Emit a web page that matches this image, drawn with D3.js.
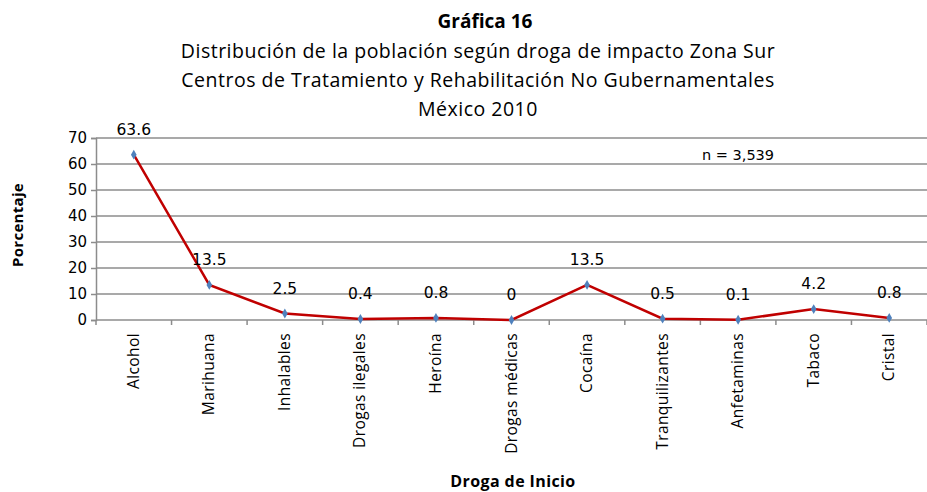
<!DOCTYPE html>
<html>
<head>
<meta charset="utf-8">
<script src="https://cdn.jsdelivr.net/npm/d3@7"></script>
<style>
  body { margin: 0; background: #fff; }
  svg { display: block; }
</style>
</head>
<body>
<div id="chart"></div>
<script>
// chart data
var categories = ["Alcohol", "Marihuana", "Inhalables", "Drogas ilegales", "Heroína",
                  "Drogas médicas", "Cocaína", "Tranquilizantes", "Anfetaminas", "Tabaco", "Cristal"];
var values = [63.6, 13.5, 2.5, 0.4, 0.8, 0, 13.5, 0.5, 0.1, 4.2, 0.8];
var yTicks = [0, 10, 20, 30, 40, 50, 60, 70];
var titleLines = ["Distribución de la población según droga de impacto Zona Sur",
                  "Centros de Tratamiento y Rehabilitación No Gubernamentales",
                  "México 2010"];

var W = 927, H = 492;
var margin = {top: 138, left: 96, right: 0, bottom: 172},
    width  = W - margin.left - margin.right,
    height = H - margin.top - margin.bottom;

var titleFont = "'Open Sans', Lato, sans-serif";
var numFont = "'DejaVu Sans', Verdana, sans-serif";

var svg = d3.select("#chart").append("svg")
    .attr("width", W)
    .attr("height", H);

// titles
svg.append("text")
  .attr("x", 485).attr("y", 28)
  .attr("text-anchor", "middle")
  .attr("font-family", titleFont)
  .attr("font-weight", "bold")
  .attr("font-size", 19)
  .text("Gráfica 16");

svg.selectAll(".subtitle").data(titleLines).enter()
  .append("text")
  .attr("class", "subtitle")
  .attr("x", 478)
  .attr("y", function(d, i) { return 58 + i * 29; })
  .attr("text-anchor", "middle")
  .attr("font-family", titleFont)
  .attr("font-size", 19.5)
  .attr("letter-spacing", 0.5)
  .text(function(d) { return d; });

var g = svg.append("g").attr("transform", "translate(" + margin.left + "," + margin.top + ")");

var x = d3.scaleBand().domain(categories).range([0, width]);
var y = d3.scaleLinear().domain([0, 70]).range([height, 0]);

// gridlines
g.selectAll(".horizontalGrid").data(yTicks.filter(function(d) { return d > 0; })).enter()
  .append("line")
  .attr("class", "horizontalGrid")
  .attr("x1", 0)
  .attr("x2", width)
  .attr("y1", function(d) { return y(d); })
  .attr("y2", function(d) { return y(d); })
  .attr("stroke", "#8c8c8c")
  .attr("stroke-width", 1.5);

// y axis
var yAxis = g.append("g")
  .call(d3.axisLeft(y).tickValues(yTicks).tickSize(5).tickPadding(4));
yAxis.selectAll("path, line").attr("stroke", "#8c8c8c").attr("stroke-width", 1.5);
yAxis.selectAll("text")
  .attr("font-family", numFont)
  .attr("font-size", 15)
  .attr("fill", "#000");

// x axis with ticks between categories
var xAxis = g.append("g").attr("transform", "translate(0," + height + ")");
xAxis.append("line")
  .attr("x1", 0).attr("x2", width)
  .attr("stroke", "#8c8c8c").attr("stroke-width", 1.5);
xAxis.selectAll(".xtick").data(d3.range(categories.length + 1)).enter()
  .append("line")
  .attr("x1", function(i) { return i * x.bandwidth(); })
  .attr("x2", function(i) { return i * x.bandwidth(); })
  .attr("y1", 0).attr("y2", 5)
  .attr("stroke", "#8c8c8c").attr("stroke-width", 1.5);
xAxis.selectAll(".xlabel").data(categories).enter()
  .append("text")
  .attr("transform", function(d) {
    return "translate(" + (x(d) + x.bandwidth() / 2 + 5) + ",13) rotate(-90)";
  })
  .attr("text-anchor", "end")
  .attr("font-family", titleFont)
  .attr("font-size", 15.5)
  .attr("letter-spacing", 0.4)
  .text(function(d) { return d; });

// line
var line = d3.line()
  .x(function(d, i) { return x(categories[i]) + x.bandwidth() / 2; })
  .y(function(d) { return y(d); });

g.append("path")
  .datum(values)
  .attr("fill", "none")
  .attr("stroke", "#c00000")
  .attr("stroke-width", 2.5)
  .attr("d", line);

// diamond markers
g.selectAll(".dot").data(values).enter()
  .append("path")
  .attr("d", d3.symbol().type(d3.symbolDiamond).size(28))
  .attr("transform", function(d, i) {
    return "translate(" + (x(categories[i]) + x.bandwidth() / 2) + "," + y(d) + ")";
  })
  .attr("fill", "#4f81bd");

// data labels
g.selectAll(".label").data(values).enter()
  .append("text")
  .attr("x", function(d, i) { return x(categories[i]) + x.bandwidth() / 2; })
  .attr("y", function(d) { return y(d) - 20; })
  .attr("text-anchor", "middle")
  .attr("font-family", numFont)
  .attr("font-size", 15.5)
  .text(function(d) { return d; });

// n annotation
svg.append("text")
  .attr("x", 702).attr("y", 160)
  .attr("font-family", numFont)
  .attr("font-size", 14.5)
  .text("n = 3,539");

// axis titles
svg.append("text")
  .attr("transform", "translate(23,225) rotate(-90)")
  .attr("text-anchor", "middle")
  .attr("font-family", titleFont)
  .attr("font-weight", "bold")
  .attr("font-size", 15)
  .attr("letter-spacing", 0.3)
  .text("Porcentaje");

svg.append("text")
  .attr("x", 513).attr("y", 487)
  .attr("text-anchor", "middle")
  .attr("font-family", titleFont)
  .attr("font-weight", "bold")
  .attr("font-size", 16)
  .attr("letter-spacing", 0.4)
  .text("Droga de Inicio");
</script>
</body>
</html>
